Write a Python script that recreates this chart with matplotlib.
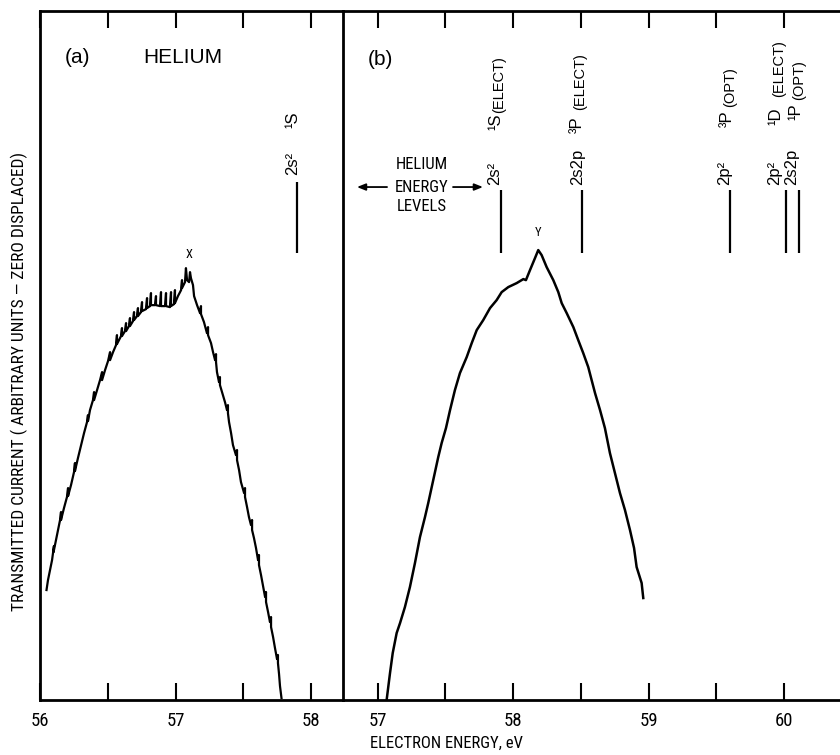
import matplotlib
matplotlib.use("Agg")
import matplotlib.pyplot as plt
from matplotlib.transforms import offset_copy

NARROW = ["Roboto Condensed", "DejaVu Sans"]
REG = ["Liberation Sans", "DejaVu Sans"]

# ---------------- data ----------------
# Panel (a): helium transmitted current trace
energy_a = [56.048, 56.059, 56.074, 56.089, 56.096, 56.103, 56.100, 56.118, 56.133, 56.148,
            56.155, 56.155, 56.177, 56.199, 56.207, 56.207, 56.229, 56.251, 56.258, 56.258,
            56.280, 56.303, 56.325, 56.347, 56.354, 56.354, 56.369, 56.391, 56.399, 56.399,
            56.421, 56.443, 56.458, 56.458, 56.480, 56.502, 56.517, 56.517, 56.539, 56.561,
            56.568, 56.568, 56.590, 56.598, 56.605, 56.605, 56.627, 56.635, 56.635, 56.657,
            56.664, 56.664, 56.686, 56.694, 56.694, 56.716, 56.723, 56.723, 56.745, 56.753,
            56.753, 56.782, 56.790, 56.790, 56.812, 56.819, 56.819, 56.849, 56.856, 56.856,
            56.886, 56.893, 56.893, 56.923, 56.930, 56.930, 56.959, 56.967, 56.967, 56.989,
            56.996, 56.996, 57.018, 57.041, 57.048, 57.048, 57.070, 57.077, 57.085, 57.100,
            57.107, 57.114, 57.129, 57.137, 57.159, 57.181, 57.188, 57.188, 57.210, 57.232,
            57.240, 57.240, 57.262, 57.277, 57.292, 57.299, 57.299, 57.306, 57.321, 57.328,
            57.328, 57.343, 57.365, 57.380, 57.387, 57.387, 57.395, 57.410, 57.424, 57.446,
            57.454, 57.454, 57.469, 57.483, 57.506, 57.513, 57.513, 57.528, 57.542, 57.557,
            57.565, 57.565, 57.579, 57.594, 57.609, 57.616, 57.616, 57.631, 57.646, 57.661,
            57.668, 57.668, 57.683, 57.697, 57.705, 57.705, 57.720, 57.734, 57.749, 57.756,
            57.756, 57.764, 57.771, 57.782]
current_a = [15.96, 17.41, 18.86, 20.31, 21.33, 22.35, 21.47, 23.22, 24.67, 26.12,
             27.28, 26.12, 27.86, 29.46, 30.76, 29.60, 31.20, 33.08, 34.39, 33.23,
             35.11, 37.00, 38.74, 40.34, 41.35, 40.48, 42.08, 43.53, 44.69, 43.53,
             44.98, 46.43, 47.59, 46.43, 47.88, 49.19, 50.49, 49.33, 50.49, 51.51,
             52.96, 51.66, 52.53, 52.82, 53.98, 52.82, 53.54, 54.70, 53.54, 54.27,
             55.43, 54.27, 54.99, 56.30, 55.14, 55.72, 56.88, 55.72, 56.30, 57.75,
             56.44, 56.73, 58.33, 56.88, 57.17, 59.06, 57.31, 57.31, 58.62, 57.31,
             57.17, 59.20, 57.17, 57.17, 59.06, 57.17, 57.02, 59.20, 57.17, 57.46,
             59.49, 57.60, 58.62, 59.49, 60.94, 59.78, 60.65, 62.68, 60.94, 60.65,
             62.10, 61.23, 60.22, 58.62, 57.31, 56.15, 57.17, 56.01, 54.85, 53.25,
             54.12, 52.96, 51.80, 50.49, 49.33, 50.20, 49.04, 47.59, 46.14, 46.87,
             45.71, 44.69, 43.24, 42.08, 42.80, 41.64, 40.34, 38.74, 37.00, 35.55,
             36.28, 34.82, 33.37, 31.63, 30.04, 30.76, 29.46, 28.00, 26.55, 25.39,
             26.12, 24.67, 23.51, 22.06, 20.31, 21.04, 19.59, 18.14, 16.54, 14.95,
             15.67, 14.22, 12.77, 11.32, 12.04, 10.59, 9.14, 7.55, 5.95, 6.53,
             5.37, 3.77, 2.03, 0.29]

# Panel (b): trace
energy_b = [57.066, 57.091, 57.111, 57.140, 57.165, 57.201, 57.238, 57.275, 57.312, 57.349,
            57.373, 57.410, 57.447, 57.472, 57.504, 57.534, 57.570, 57.607, 57.657, 57.694,
            57.731, 57.779, 57.829, 57.878, 57.915, 57.964, 58.026, 58.075, 58.094, 58.124,
            58.161, 58.185, 58.210, 58.247, 58.296, 58.333, 58.358, 58.395, 58.444, 58.480,
            58.517, 58.554, 58.579, 58.604, 58.641, 58.677, 58.714, 58.751, 58.788, 58.825,
            58.862, 58.892, 58.911, 58.948, 58.960]
current_b = [0.00, 3.92, 6.82, 9.72, 11.17, 13.49, 16.40, 19.88, 23.65, 26.55,
             28.58, 31.92, 35.26, 37.29, 39.47, 42.08, 44.98, 47.45, 49.77, 51.80,
             53.69, 55.14, 56.88, 58.04, 59.20, 59.93, 60.51, 61.09, 60.94, 62.39,
             64.14, 65.30, 64.57, 62.83, 60.94, 59.20, 57.60, 56.15, 54.12, 52.24,
             50.35, 48.32, 46.43, 44.55, 42.08, 39.47, 35.84, 32.94, 30.04, 27.57,
             24.67, 22.06, 19.30, 16.98, 14.80]

# Helium energy levels (eV)
level_a_energy = [57.90]
level_a_config = ["2s²"]
level_a_term = ["¹S"]

level_b_energy = [57.91, 58.51, 59.60, 60.01, 60.11]
level_b_config = ["2s²", "2s2p", "2p²", "2p²", "2s2p"]
level_b_term = ["¹S", "³P", "³P", "¹D", "¹P"]
level_b_source = ["(ELECT)", "(ELECT)", "(OPT)", "(ELECT)", "(OPT)"]

peak_a = (57.10, "X")
peak_b = (58.18, "Y")

ticks_a = [56, 56.5, 57, 57.5, 58]
ticklabels_a = ["56", "", "57", "", "58"]
ticks_b = [57, 57.5, 58, 58.5, 59, 59.5, 60]
ticklabels_b = ["57", "", "58", "", "59", "", "60"]

# ---------------- layout ----------------
W, H = 840, 755
fig = plt.figure(figsize=(W / 100, H / 100), dpi=100)


def rect(l, t, r, b):
    return [l / W, 1 - b / H, (r - l) / W, (b - t) / H]


ax_a = fig.add_axes(rect(40, 11, 343, 700))
ax_b = fig.add_axes(rect(343, 11, 840, 700))

for ax, ticks, labels in ((ax_a, ticks_a, ticklabels_a), (ax_b, ticks_b, ticklabels_b)):
    ax.set_ylim(0, 100)
    ax.set_yticks([])
    ax.set_xticks(ticks)
    ax.set_xticklabels(labels, family=NARROW, fontsize=13.5)
    ax.tick_params(axis="x", direction="in", length=12, width=1.5, top=True,
                   bottom=True, labeltop=False, pad=8.5, color="black")
    for s in ax.spines.values():
        s.set_linewidth(2.0)
    ax.set_facecolor("none")

ax_a.set_xlim(56, 58.236)
ax_b.set_xlim(56.744, 60.412)
ax_b.spines["left"].set_visible(False)
ax_b.spines["right"].set_visible(False)

ax_a.plot(energy_a, current_a, color="black", lw=1.6, solid_joinstyle="round")
ax_b.plot(energy_b, current_b, color="black", lw=1.8, solid_joinstyle="round")

# energy level markers
xa = ax_a.get_xaxis_transform()
ax_a.vlines(level_a_energy, 0.649, 0.752, transform=xa, color="black", lw=1.6)
for e, c, t in zip(level_a_energy, level_a_config, level_a_term):
    tr = offset_copy(xa, fig=fig, x=-5, y=0, units="dots")
    ax_a.text(e, 0.762, c, transform=tr, rotation=90, ha="center", va="bottom",
              family=REG, fontsize=12)
    ax_a.text(e, 0.830, t, transform=tr, rotation=90, ha="center", va="bottom",
              family=REG, fontsize=12)

xb = ax_b.get_xaxis_transform()
ax_b.vlines(level_b_energy, 0.649, 0.740, transform=xb, color="black", lw=1.6)
cfg_dx = [-6, -5, -5, -11, -7]
term_dx = [-5, -5, -3, -10, -3]
src_dx = [-2, -2, 0, -6, 0]
term_y = [0.827, 0.823, 0.832, 0.835, 0.842]
src_y = [0.852, 0.856, 0.861, 0.875, 0.871]
for i, (e, c, t, s) in enumerate(zip(level_b_energy, level_b_config,
                                     level_b_term, level_b_source)):
    ax_b.text(e, 0.7475, c, transform=offset_copy(xb, fig=fig, x=cfg_dx[i], y=0, units="dots"),
              rotation=90, ha="center", va="bottom", family=REG, fontsize=12)
    ax_b.text(e, term_y[i], t, transform=offset_copy(xb, fig=fig, x=term_dx[i], y=0, units="dots"),
              rotation=90, ha="center", va="bottom", family=REG, fontsize=12)
    ax_b.text(e, src_y[i], s, transform=offset_copy(xb, fig=fig, x=src_dx[i], y=0, units="dots"),
              rotation=90, ha="center", va="bottom", family=REG, fontsize=10.5)

# peak markers
ax_a.text(peak_a[0], 0.646, peak_a[1], transform=xa, ha="center", va="center",
          family=NARROW, fontsize=9)
ax_b.text(peak_b[0], 0.679, peak_b[1], transform=xb, ha="center", va="center",
          family=NARROW, fontsize=9)

# "HELIUM ENERGY LEVELS" block with arrows
for y_, word in ((0.7765, "HELIUM"), (0.7445, "ENERGY"), (0.7165, "LEVELS")):
    ax_b.text(57.327, y_, word, transform=xb, ha="center", va="center",
              family=NARROW, fontsize=12)
arrow = dict(arrowstyle="-|>,head_length=0.5,head_width=0.2", color="black", lw=1.3,
             shrinkA=0, shrinkB=0)
ax_b.annotate("", xy=(56.847, 0.7445), xytext=(57.069, 0.7445), xycoords=xb,
              textcoords=xb, arrowprops=arrow)
ax_b.annotate("", xy=(57.777, 0.7445), xytext=(57.556, 0.7445), xycoords=xb,
              textcoords=xb, arrowprops=arrow)

# panel titles
ax_a.text(0.1238, 0.9325, "(a)", transform=ax_a.transAxes, ha="center", va="center",
          family=REG, fontsize=15)
ax_a.text(0.470, 0.9325, "HELIUM", transform=ax_a.transAxes, ha="center", va="center",
          family=REG, fontsize=15)
ax_b.text(0.0744, 0.9296, "(b)", transform=ax_b.transAxes, ha="center", va="center",
          family=REG, fontsize=15)

# axis titles
fig.text(446 / W, 1 - 743 / H, "ELECTRON ENERGY, eV", ha="center", va="center",
         family=NARROW, fontsize=12)
fig.text(19 / W, 1 - 381 / H, "TRANSMITTED CURRENT ( ARBITRARY UNITS — ZERO DISPLACED)",
         rotation=90, ha="center", va="center", family=NARROW, fontsize=12.5)

fig.savefig("out.png", dpi=100, facecolor="white")
